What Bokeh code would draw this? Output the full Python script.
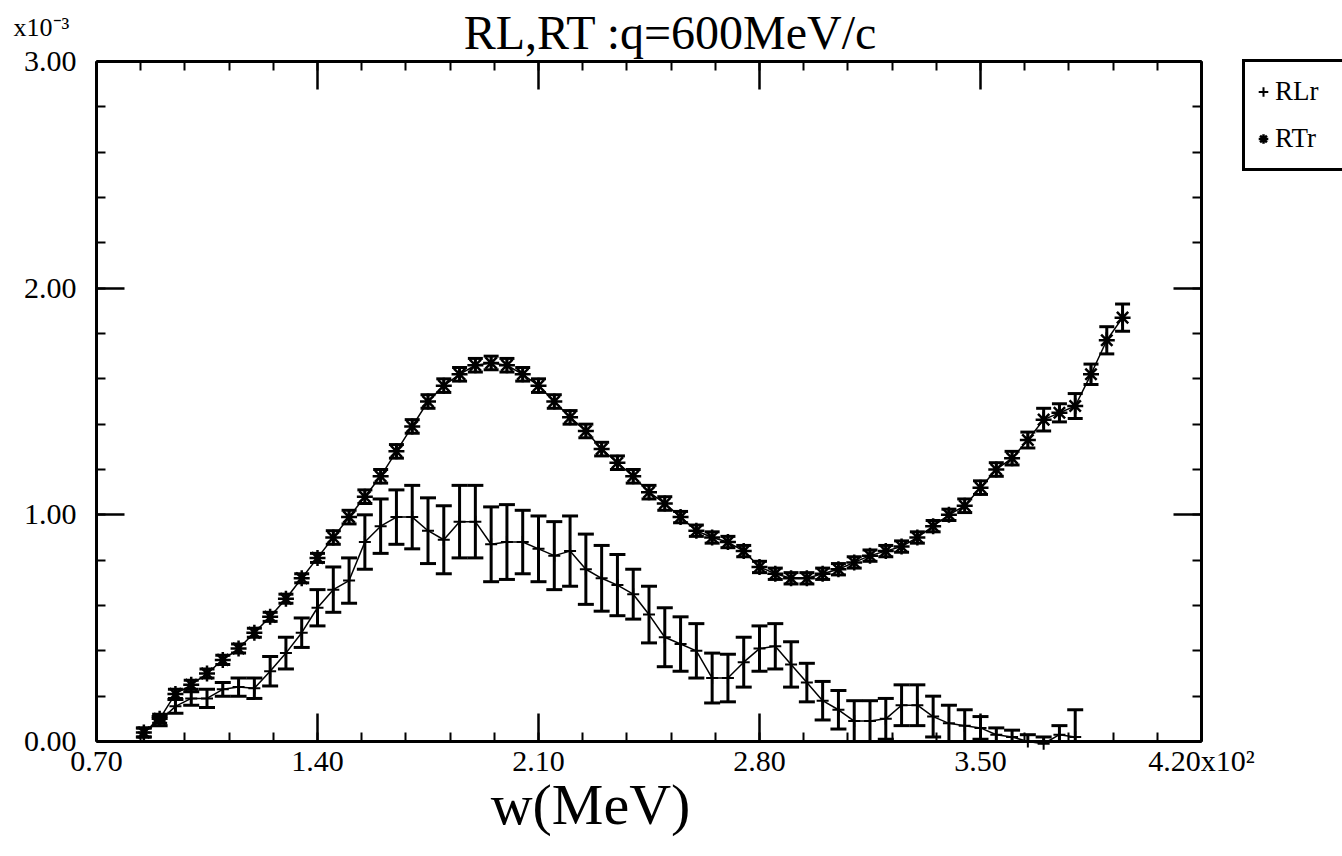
from bokeh.plotting import figure
from bokeh.models import (Range1d, FixedTicker, LinearAxis, ColumnDataSource,
                          Label, Legend, LegendItem)
from bokeh.embed import file_html
from bokeh.resources import INLINE

# ---------------- data ----------------
w_mev = [85, 90, 95, 100, 105, 110, 115, 120, 125, 130, 135, 140, 145, 150,
         155, 160, 165, 170, 175, 180, 185, 190, 195, 200, 205, 210, 215, 220,
         225, 230, 235, 240, 245, 250, 255, 260, 265, 270, 275, 280, 285, 290,
         295, 300, 305, 310, 315, 320, 325, 330, 335, 340, 345, 350, 355, 360,
         365, 370, 375, 380, 385, 390, 395]

rt_val = [0.04, 0.10, 0.21, 0.25, 0.30, 0.36, 0.41, 0.48, 0.55, 0.63, 0.72, 0.81,
          0.90, 0.99, 1.08, 1.17, 1.28, 1.39, 1.50, 1.57, 1.62, 1.66, 1.67, 1.66,
          1.62, 1.57, 1.50, 1.43, 1.37, 1.29, 1.23, 1.17, 1.10, 1.05, 0.99, 0.93,
          0.90, 0.88, 0.84, 0.77, 0.74, 0.72, 0.72, 0.74, 0.76, 0.79, 0.82, 0.84,
          0.86, 0.90, 0.95, 1.00, 1.04, 1.12, 1.20, 1.25, 1.33, 1.42, 1.45, 1.48,
          1.62, 1.77, 1.87]
rt_err = [0.02, 0.02, 0.02, 0.02, 0.02, 0.02, 0.02, 0.02, 0.02, 0.02, 0.02, 0.02,
          0.03, 0.03, 0.03, 0.03, 0.03, 0.03, 0.03, 0.03, 0.03, 0.03, 0.03, 0.03,
          0.03, 0.03, 0.03, 0.03, 0.03, 0.03, 0.03, 0.03, 0.03, 0.03, 0.025, 0.025,
          0.025, 0.025, 0.025, 0.025, 0.025, 0.025, 0.025, 0.025, 0.025, 0.025, 0.025, 0.025,
          0.025, 0.025, 0.025, 0.025, 0.03, 0.03, 0.03, 0.03, 0.035, 0.05, 0.04, 0.055,
          0.045, 0.06, 0.06]

rl_val = [0.04, 0.09, 0.155, 0.19, 0.19, 0.23, 0.24, 0.235, 0.31, 0.39, 0.48, 0.59,
          0.67, 0.71, 0.88, 0.95, 0.99, 0.99, 0.93, 0.89, 0.97, 0.97, 0.87, 0.88,
          0.88, 0.85, 0.82, 0.84, 0.76, 0.72, 0.69, 0.65, 0.56, 0.46, 0.43, 0.40,
          0.28, 0.28, 0.35, 0.41, 0.42, 0.34, 0.26, 0.18, 0.14, 0.09, 0.09, 0.10,
          0.16, 0.16, 0.11, 0.08, 0.07, 0.06, 0.03, 0.02, 0.00, -0.01, 0.03, 0.02]
rl_err = [0.02, 0.02, 0.03, 0.03, 0.04, 0.03, 0.04, 0.045, 0.065, 0.07, 0.065, 0.08,
          0.10, 0.10, 0.12, 0.12, 0.12, 0.14, 0.145, 0.15, 0.16, 0.16, 0.165, 0.165,
          0.14, 0.145, 0.15, 0.155, 0.155, 0.145, 0.135, 0.11, 0.125, 0.13, 0.12, 0.12,
          0.11, 0.105, 0.11, 0.10, 0.10, 0.10, 0.085, 0.085, 0.085, 0.09, 0.09, 0.09,
          0.09, 0.09, 0.09, 0.08, 0.07, 0.05, 0.03, 0.03, 0.03, 0.03, 0.04, 0.12]

x_ticks = [70, 140, 210, 280, 350, 420]
x_tick_labels = ["0.70", "1.40", "2.10", "2.80", "3.50", "4.20x10\u00b2"]
y_ticks = [0, 1, 2, 3]
y_tick_labels = ["0.00", "1.00", "2.00", "3.00"]

title_text = "RL,RT :q=600MeV/c"
x_title = "w(MeV)"
y_scale_text = "x10\u207b\u00b3"
series_names = ["RLr", "RTr"]

FONT = "Liberation Serif"

# ---------------- layout (canvas pixels, from top-left) ----------------
W, H = 1342, 850
BOX_L, BOX_R, BOX_T, BOX_B = 96, 1201, 61, 741   # data box inside the canvas
X0, X1 = x_ticks[0], x_ticks[-1]
Y0, Y1 = y_ticks[0], y_ticks[-1]
sx = (BOX_R - BOX_L) / (X1 - X0)
sy = (BOX_B - BOX_T) / (Y1 - Y0)

p = figure(width=W, height=H, output_backend="svg", toolbar_location=None,
           x_range=Range1d(X0 - BOX_L / sx, X1 + (W - BOX_R) / sx),
           y_range=Range1d(Y0 - (H - BOX_B) / sy, Y1 + BOX_T / sy),
           x_axis_location=None, y_axis_location=None,
           min_border=0, min_border_left=0, min_border_right=0,
           min_border_top=0, min_border_bottom=0,
           background_fill_color="white", border_fill_color="white")
p.grid.visible = False
p.outline_line_color = None

x_minor = [X0 + 14 * i for i in range(int((X1 - X0) / 14) + 1)]
y_minor = [round(0.2 * i, 2) for i in range(int((Y1 - Y0) / 0.2) + 1)]


def make_axis(loc, ticks, minor, labels, bounds):
    ax = LinearAxis(fixed_location=loc, bounds=bounds,
                    ticker=FixedTicker(ticks=ticks, minor_ticks=minor))
    ax.axis_line_color = "black"
    ax.axis_line_width = 3
    ax.major_tick_in = 28
    ax.major_tick_out = 0
    ax.minor_tick_in = 9
    ax.minor_tick_out = 0
    ax.major_tick_line_width = 2.5
    ax.minor_tick_line_width = 2
    ax.major_tick_line_color = "black"
    ax.minor_tick_line_color = "black"
    ax.major_label_text_font = FONT
    ax.major_label_text_font_size = "30px"
    ax.major_label_text_color = "black"
    ax.major_label_overrides = labels
    return ax


xa = make_axis(Y0, x_ticks, x_minor,
               {t: s for t, s in zip(x_ticks, x_tick_labels)}, (X0, X1))
xa.major_label_standoff = 2
p.add_layout(xa, "below")

ya = make_axis(X0, y_ticks, y_minor,
               {t: s for t, s in zip(y_ticks, y_tick_labels)}, (Y0, Y1))
ya.major_label_standoff = 20
p.add_layout(ya, "left")

top_ax = make_axis(Y1, x_ticks, x_minor, {t: "" for t in x_ticks}, (X0, X1))
p.add_layout(top_ax, "above")

right_ax = make_axis(X1, y_ticks, y_minor, {t: "" for t in y_ticks}, (Y0, Y1))
p.add_layout(right_ax, "right")

# ---------------- data glyphs ----------------
n_rl = len(rl_val)
w_rl = w_mev[:n_rl]
rl_lo = [v - e for v, e in zip(rl_val, rl_err)]
rl_hi = [v + e for v, e in zip(rl_val, rl_err)]
rt_lo = [v - e for v, e in zip(rt_val, rt_err)]
rt_hi = [v + e for v, e in zip(rt_val, rt_err)]

# error bars are cut at the lower edge of the box (y = 0), as in the reference
rl_src = ColumnDataSource(dict(w=w_rl, v=rl_val, hi=rl_hi,
                               lo=[max(l, Y0) for l in rl_lo]))
rl_locap = ColumnDataSource(dict(w=[x for x, l in zip(w_rl, rl_lo) if l >= Y0],
                                 lo=[l for l in rl_lo if l >= Y0]))
rt_src = ColumnDataSource(dict(w=w_mev, v=rt_val, hi=rt_hi,
                               lo=[max(l, Y0) for l in rt_lo]))

# RL
p.line("w", "v", source=rl_src, line_color="black", line_width=1.5)
p.segment(x0="w", y0="lo", x1="w", y1="hi", source=rl_src,
          line_color="black", line_width=3)
p.scatter("w", "lo", source=rl_locap, marker="dash", size=16, line_width=3,
          line_color="black")
p.scatter("w", "hi", source=rl_src, marker="dash", size=16, line_width=3,
          line_color="black")
rl_mark = p.scatter("w", "v", source=rl_src, marker="cross", size=12,
                    line_width=2, line_color="black")

# RT
p.line("w", "v", source=rt_src, line_color="black", line_width=1.5)
p.segment(x0="w", y0="lo", x1="w", y1="hi", source=rt_src,
          line_color="black", line_width=3)
p.scatter("w", "lo", source=rt_src, marker="dash", size=15, line_width=3,
          line_color="black")
p.scatter("w", "hi", source=rt_src, marker="dash", size=15, line_width=3,
          line_color="black")
rt_mark = p.scatter("w", "v", source=rt_src, marker="asterisk", size=16,
                    line_width=2.5, line_color="black")

# ---------------- legend (box runs off the right edge, as in the reference) ----
LEG_L, LEG_T, PAD, GW, GH = 1242, 65, 6, 24, 47
legend = Legend(items=[LegendItem(label=series_names[0], renderers=[rl_mark]),
                       LegendItem(label=series_names[1], renderers=[rt_mark])],
                location=(LEG_L, H - (LEG_T + 2 * PAD + 2 * GH)),
                margin=0, padding=PAD, spacing=0,
                glyph_width=GW, glyph_height=GH, label_standoff=0,
                label_width=110, label_text_font=FONT,
                label_text_font_size="27px", label_text_color="black",
                border_line_color="black", border_line_width=3,
                border_line_alpha=1.0,
                background_fill_color="white", background_fill_alpha=1)
p.add_layout(legend, "center")


# ---------------- texts ----------------
def text_label(text, x, baseline, size, align):
    # the renderer places "alphabetic" text ~0.38 em lower than asked: compensate
    return Label(x=x, y=H - (baseline - 0.38 * size), x_units="screen",
                 y_units="screen", text=text, text_align=align,
                 text_baseline="alphabetic", text_font=FONT,
                 text_font_size=f"{size}px", text_color="black")


p.add_layout(text_label(title_text, 670, 50, 48, "center"))
p.add_layout(text_label(y_scale_text, 13, 37, 26, "left"))
p.add_layout(text_label(x_title, 590, 826, 58, "center"))

open("out.html", "w").write(file_html(p, INLINE))
